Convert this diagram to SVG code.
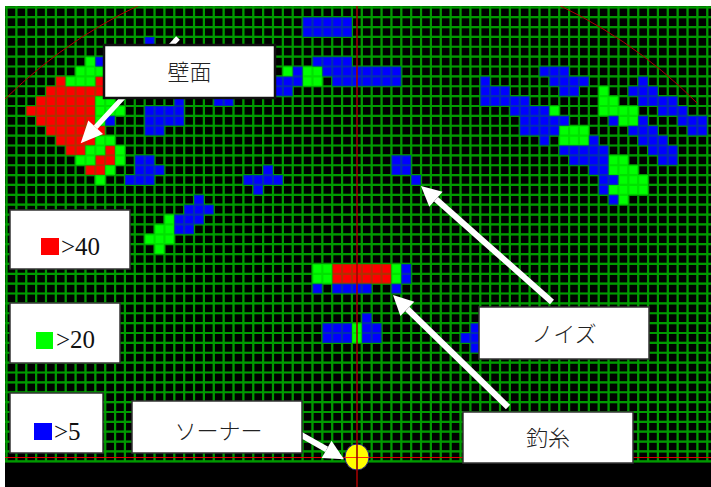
<svg xmlns="http://www.w3.org/2000/svg" width="711" height="487" viewBox="0 0 711 487">
<style>
.grid{fill:none;stroke:#009a00;stroke-width:0.22}
.r{fill:#ff0000}.g{fill:#00ff00}.b{fill:#0000ff}
.box{fill:#fff;stroke:#333;stroke-width:1.5}
.jp{font-family:"Noto Sans CJK JP",sans-serif;font-size:22px;font-weight:300;fill:#222;text-anchor:middle}
.lg{font-family:"Liberation Serif",serif;font-size:25px;fill:#111}
.head{fill:#fff}
.shaft{stroke:#fff;stroke-width:6;fill:none}
</style>
<defs>
<clipPath id="view"><rect x="5" y="6" width="706" height="481"/></clipPath>
<path id="gridlines" d="M0-.14V46.1M1-.14V46.1M2-.14V46.1M3-.14V46.1M4-.14V46.1M5-.14V46.1M6-.14V46.1M7-.14V46.1M8-.14V46.1M9-.14V46.1M10-.14V46.1M11-.14V46.1M12-.14V46.1M13-.14V46.1M14-.14V46.1M15-.14V46.1M16-.14V46.1M17-.14V46.1M18-.14V46.1M19-.14V46.1M20-.14V46.1M21-.14V46.1M22-.14V46.1M23-.14V46.1M24-.14V46.1M25-.14V46.1M26-.14V46.1M27-.14V46.1M28-.14V46.1M29-.14V46.1M30-.14V46.1M31-.14V46.1M32-.14V46.1M33-.14V46.1M34-.14V46.1M35-.14V46.1M36-.14V46.1M37-.14V46.1M38-.14V46.1M39-.14V46.1M40-.14V46.1M41-.14V46.1M42-.14V46.1M43-.14V46.1M44-.14V46.1M45-.14V46.1M46-.14V46.1M47-.14V46.1M48-.14V46.1M49-.14V46.1M50-.14V46.1M51-.14V46.1M52-.14V46.1M53-.14V46.1M54-.14V46.1M55-.14V46.1M56-.14V46.1M57-.14V46.1M58-.14V46.1M59-.14V46.1M60-.14V46.1M61-.14V46.1M62-.14V46.1M63-.14V46.1M64-.14V46.1M65-.14V46.1M66-.14V46.1M67-.14V46.1M68-.14V46.1M69-.14V46.1M70-.14V46.1M71-.14V46.1M-.15 0H71.4M-.15 1H71.4M-.15 2H71.4M-.15 3H71.4M-.15 4H71.4M-.15 5H71.4M-.15 6H71.4M-.15 7H71.4M-.15 8H71.4M-.15 9H71.4M-.15 10H71.4M-.15 11H71.4M-.15 12H71.4M-.15 13H71.4M-.15 14H71.4M-.15 15H71.4M-.15 16H71.4M-.15 17H71.4M-.15 18H71.4M-.15 19H71.4M-.15 20H71.4M-.15 21H71.4M-.15 22H71.4M-.15 23H71.4M-.15 24H71.4M-.15 25H71.4M-.15 26H71.4M-.15 27H71.4M-.15 28H71.4M-.15 29H71.4M-.15 30H71.4M-.15 31H71.4M-.15 32H71.4M-.15 33H71.4M-.15 34H71.4M-.15 35H71.4M-.15 36H71.4M-.15 37H71.4M-.15 38H71.4M-.15 39H71.4M-.15 40H71.4M-.15 41H71.4M-.15 42H71.4M-.15 43H71.4M-.15 44H71.4M-.15 45H71.4M-.15 46H71.4"/>
</defs>
<rect width="711" height="487" fill="#fff"/>
<g id="display" clip-path="url(#view)">
<rect x="5" y="6" width="706" height="481" fill="#000"/>
<g id="cells" transform="translate(6.5 7.3) scale(9.87)">
<use href="#gridlines" class="grid"/>
<path class="r" d="M5 7h1v1h-1zM9 7h1v1h-1zM4 8h6v1h-6zM3 9h6v1h-6zM2 10h7v1h-7zM3 11h6v1h-6zM4 12h6v1h-6zM5 13h4v1h-4zM6 14h2v1h-2zM10 14h1v1h-1zM9 15h2v1h-2zM8 16h2v1h-2zM33 26h6v2h-6z"/>
<path class="g" d="M8 5h1v1h-1zM7 6h3v1h-3zM28 6h1v1h-1zM30 6h2v2h-2zM6 7h3v1h-3zM60 8h1v1h-1zM9 9h2v1h-2zM60 9h2v1h-2zM9 10h3v1h-3zM55 10h1v1h-1zM60 10h4v1h-4zM9 11h1v1h-1zM62 11h2v1h-2zM56 12h3v2h-3zM9 13h2v1h-2zM8 14h2v1h-2zM11 14h1v1h-1zM7 15h2v1h-2zM11 15h1v1h-1zM61 15h2v1h-2zM10 16h1v1h-1zM61 16h3v1h-3zM9 17h1v1h-1zM62 17h3v1h-3zM61 18h4v1h-4zM62 19h1v1h-1zM16 21h1v1h-1zM15 22h2v1h-2zM14 23h3v1h-3zM15 24h1v1h-1zM31 26h2v2h-2zM39 26h1v2h-1zM35 32h1v2h-1z"/>
<path class="b" d="M30 1h5v2h-5zM14 3h1v1h-1zM9 5h1v1h-1zM31 5h4v1h-4zM29 6h1v1h-1zM32 6h8v1h-8zM54 6h3v1h-3zM27 7h3v1h-3zM33 7h7v1h-7zM48 7h1v1h-1zM55 7h4v1h-4zM64 7h1v1h-1zM27 8h2v1h-2zM48 8h3v1h-3zM56 8h2v1h-2zM63 8h3v1h-3zM17 9h1v1h-1zM21 9h2v1h-2zM48 9h5v1h-5zM64 9h4v1h-4zM14 10h4v2h-4zM51 10h4v1h-4zM66 10h3v1h-3zM10 11h1v1h-1zM52 11h5v1h-5zM61 11h1v1h-1zM64 11h1v1h-1zM68 11h3v1h-3zM14 12h2v1h-2zM52 12h4v1h-4zM63 12h3v1h-3zM69 12h2v1h-2zM54 13h1v1h-1zM59 13h1v1h-1zM64 13h3v1h-3zM56 14h5v1h-5zM65 14h3v1h-3zM13 15h2v1h-2zM39 15h2v1h-2zM57 15h4v1h-4zM66 15h2v1h-2zM13 16h3v1h-3zM26 16h1v1h-1zM39 16h2v1h-2zM59 16h2v1h-2zM12 17h3v1h-3zM24 17h4v1h-4zM41 17h1v1h-1zM60 17h2v1h-2zM25 18h1v1h-1zM60 18h1v1h-1zM19 19h1v1h-1zM61 19h1v1h-1zM18 20h3v1h-3zM17 21h3v1h-3zM17 22h2v1h-2zM40 26h1v2h-1zM31 28h1v1h-1zM33 28h4v1h-4zM39 28h1v1h-1zM36 31h1v1h-1zM32 32h3v2h-3zM36 32h2v2h-2zM47 32h1v3h-1zM46 33h1v1h-1z"/>
<use href="#gridlines" class="grid" opacity="0.3"/>
</g>
<rect x="5" y="463" width="706" height="24" fill="#000"/>
<path d="M5 99A490 490 0 0 1 697 103" fill="none" stroke="#b00000" stroke-width="1"/>
<line x1="5" y1="457.5" x2="711" y2="457.5" stroke="#e00000" stroke-width="1"/>
</g>
<g id="connectors">
<line class="shaft" x1="178" y1="38" x2="95.6" y2="127.2" style="stroke-width:5"/>
<polygon class="head" points="80.7,143.3 103,133.9 88.3,120.4"/>
<line class="shaft" x1="552" y1="302" x2="436" y2="199.3"/>
<polygon class="head" points="421,186 442.6,191.8 429.3,206.7"/>
<line class="shaft" x1="508" y1="407" x2="407.3" y2="309"/>
<polygon class="head" points="393,295 414.3,301.8 400.4,316.1"/>
<line class="shaft" x1="296" y1="432" x2="326.6" y2="449.4"/>
<polygon class="head" points="344,459.3 321.7,458.1 331.5,440.7"/>
</g>
<g id="sonar">
<ellipse cx="357" cy="457" rx="12" ry="13" fill="#ffff00" stroke="#202090" stroke-width="1"/>
<line x1="345" y1="457.5" x2="369" y2="457.5" stroke="#ff3000" stroke-width="1"/>
</g>
<line id="centerline" x1="357" y1="6" x2="357" y2="487" stroke="#a00000" stroke-width="1.6"/>
<g id="node-wall">
<rect class="box" x="104" y="45" width="171" height="53" style="stroke:#111;stroke-width:2.5"/>
<text class="jp" x="189.5" y="80">壁面</text>
</g>
<g id="legend-40">
<rect class="box" x="10" y="210" width="120" height="59"/>
<rect class="r" x="41" y="238" width="18" height="17"/>
<text class="lg" x="61" y="255">&gt;40</text>
</g>
<g id="legend-20">
<rect class="box" x="10" y="303" width="110" height="60"/>
<rect class="g" x="36" y="332" width="17" height="17"/>
<text class="lg" x="56" y="348">&gt;20</text>
</g>
<g id="legend-5">
<rect class="box" x="10" y="393" width="93" height="60"/>
<rect class="b" x="34" y="423" width="18" height="17"/>
<text class="lg" x="54" y="439.5">&gt;5</text>
</g>
<g id="node-sonar">
<rect class="box" x="132" y="401" width="170" height="52"/>
<text class="jp" x="218.5" y="438.5">ソーナー</text>
</g>
<g id="node-noise">
<rect class="box" x="479" y="307" width="170" height="52"/>
<text class="jp" x="564" y="341.5">ノイズ</text>
</g>
<g id="node-line">
<rect class="box" x="463" y="412" width="170" height="51"/>
<text class="jp" x="548" y="446">釣糸</text>
</g>
</svg>
